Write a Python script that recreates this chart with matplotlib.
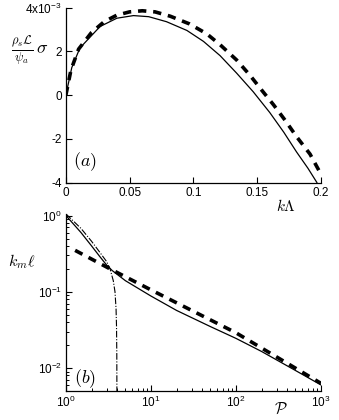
import matplotlib
matplotlib.use("Agg")
import matplotlib.pyplot as plt
from matplotlib.ticker import LogLocator, NullFormatter

plt.rcParams['font.family'] = ['Liberation Sans', 'DejaVu Sans']
plt.rcParams['mathtext.fontset'] = 'custom'
plt.rcParams['mathtext.rm'] = 'Liberation Sans'
plt.rcParams['mathtext.it'] = 'Liberation Sans:italic'
plt.rcParams['mathtext.bf'] = 'Liberation Sans:bold'

# ---- panel (a) data ----
ka_solid = [0, 0.0046, 0.011, 0.0268, 0.040, 0.053, 0.065, 0.079, 0.095, 0.108,
            0.121, 0.134, 0.147, 0.160, 0.171, 0.181, 0.190, 0.197]
sig_solid = [0, 1.25, 2.15, 3.13, 3.51, 3.63, 3.58, 3.35, 2.95, 2.45,
             1.8, 1.0, 0.15, -0.8, -1.7, -2.6, -3.35, -4.0]
ka_dash = [0, 0.004, 0.01, 0.02, 0.03, 0.04, 0.05, 0.06, 0.07, 0.082, 0.097,
           0.1105, 0.121, 0.134, 0.1445, 0.154, 0.163, 0.172, 0.181, 0.1916, 0.2]
sig_dash = [0, 1.15, 2.1, 2.85, 3.35, 3.65, 3.8, 3.85, 3.8, 3.6, 3.25,
            2.8, 2.3, 1.6, 0.9, 0.2, -0.45, -1.15, -1.9, -2.7, -3.6]

# ---- panel (b) data ----
P_solid = [1, 1.5, 2, 2.5, 3, 3.5, 5, 10, 20, 50, 100, 200, 500, 1000]
km_solid = [1.0, 0.6, 0.4, 0.29, 0.225, 0.19, 0.14, 0.088, 0.057, 0.035,
            0.0245, 0.0165, 0.0093, 0.006]
P_dash = [1.28, 3.3, 10, 100, 1000]
km_dash = [0.35, 0.2, 0.106, 0.029, 0.0063]
P_dd = [1, 1.5, 2, 2.5, 3, 3.3, 3.6, 3.77, 3.88, 3.93, 3.96, 3.97]
km_dd = [1.05, 0.68, 0.46, 0.33, 0.25, 0.2, 0.14, 0.1, 0.06, 0.035, 0.015, 0.005]

fig = plt.figure(figsize=(3.39, 4.20), dpi=100)
axa = fig.add_axes([65.9/339, 1-182.5/420, 254.8/339, 175/420])
axb = fig.add_axes([66/339, 1-391/420, 255/339, 177/420])

dash_style = dict(color='black', lw=2.6, linestyle=(0, (2.3, 1.9)))

# panel (a)
axa.plot(ka_solid, [v*1e-3 for v in sig_solid], color='black', lw=0.9)
axa.plot(ka_dash, [v*1e-3 for v in sig_dash], **dash_style)
axa.set_xlim(0, 0.2)
axa.set_ylim(-4e-3, 4e-3)
axa.set_xticks([0, 0.05, 0.1, 0.15, 0.2])
axa.set_xticklabels(['0', '0.05', '0.1', '0.15', '0.2'])
axa.set_yticks([-4e-3, -2e-3, 0, 2e-3, 4e-3])
axa.set_yticklabels(['-4', '-2', '0', '2', '4x10$^{-3}$'])

# panel (b)
axb.plot(P_solid, km_solid, color='black', lw=0.9)
axb.plot(P_dash, km_dash, **dash_style)
axb.plot(P_dd, km_dd, color='black', lw=0.8, linestyle=(0, (6, 1.5, 1, 1.5)))
axb.set_xscale('log')
axb.set_yscale('log')
axb.set_xlim(1, 1000)
axb.set_ylim(5e-3, 1.05)
axb.set_xticks([1, 10, 100, 1000])
axb.set_xticklabels(['10$^0$', '10$^1$', '10$^2$', '10$^3$'])
axb.set_yticks([1e-2, 1e-1, 1])
axb.set_yticklabels(['10$^{-2}$', '10$^{-1}$', '10$^0$'])
axb.xaxis.set_minor_locator(LogLocator(base=10, subs=range(2, 10)))
axb.yaxis.set_minor_locator(LogLocator(base=10, subs=range(2, 10)))
axb.xaxis.set_minor_formatter(NullFormatter())
axb.yaxis.set_minor_formatter(NullFormatter())

for ax in (axa, axb):
    ax.spines['top'].set_visible(False)
    ax.spines['right'].set_visible(False)
    ax.spines['left'].set_linewidth(0.9)
    ax.spines['bottom'].set_linewidth(0.9)
    ax.tick_params(which='major', direction='in', length=4, width=0.8,
                   labelsize=8.5, pad=3)
    ax.tick_params(which='minor', direction='in', length=2.5, width=0.7)

# labels
fig.text(30/339, 1-50/420, r'$\frac{\rho_s\mathcal{L}}{\psi_a}\,\sigma$',
         fontsize=13, ha='center', va='center', math_fontfamily='cm')
fig.text(286/339, 1-206/420, r'$k\Lambda$', fontsize=11, ha='center',
         va='center', math_fontfamily='cm')
fig.text(85/339, 1-162/420, r'$(a)$', fontsize=13, ha='center', va='center',
         math_fontfamily='cm')
fig.text(85/339, 1-379/420, r'$(b)$', fontsize=13, ha='center', va='center',
         math_fontfamily='cm')
fig.text(22/339, 1-262/420, r'$k_m\ell$', fontsize=11.5, ha='center',
         va='center', math_fontfamily='cm')
fig.text(281/339, 1-409/420, r'$\mathcal{P}$', fontsize=11.5, ha='center',
         va='center', math_fontfamily='cm')

fig.savefig('out.png', dpi=100)
